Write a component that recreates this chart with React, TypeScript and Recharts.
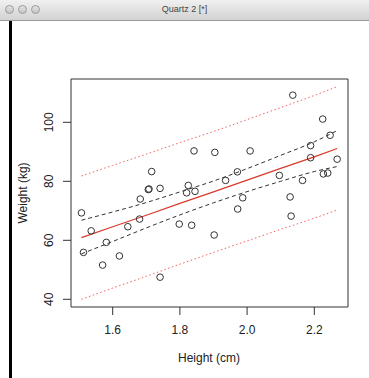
import React from 'react';
import {
  ComposedChart,
  Scatter,
  Line,
  XAxis,
  YAxis,
  ReferenceArea,
} from 'recharts';

const heights = [
  1.507, 1.513, 1.536, 1.570, 1.581, 1.620, 1.645, 1.680, 1.682, 1.706,
  1.708, 1.716, 1.741, 1.741, 1.798, 1.820, 1.825, 1.835, 1.842, 1.845,
  1.902, 1.904, 1.936, 1.971, 1.972, 1.987, 2.009, 2.096, 2.128, 2.131,
  2.136, 2.165, 2.189, 2.189, 2.225, 2.227, 2.240, 2.247, 2.268,
];
const weights = [
  69.3, 55.9, 63.2, 51.6, 59.3, 54.7, 64.6, 67.2, 74.0, 77.2,
  77.4, 83.3, 77.6, 47.5, 65.5, 76.1, 78.6, 65.1, 90.3, 76.6,
  61.8, 89.8, 80.3, 83.2, 70.6, 74.4, 90.3, 82.0, 74.7, 68.2,
  109.2, 80.3, 92.1, 88.0, 101.1, 82.5, 82.8, 95.6, 87.5,
];

// fitted line, confidence and prediction bands (read at these heights)
const bandX = [1.507, 1.6, 1.7, 1.8, 1.9, 2.0, 2.1, 2.2, 2.268];
const fitY = [60.9, 64.6, 68.5, 72.5, 76.4, 80.4, 84.4, 88.3, 91.1];
const confLow = [55.4, 59.6, 64.2, 68.6, 72.7, 76.5, 80.0, 83.3, 85.0];
const confHigh = [66.8, 69.6, 72.8, 76.4, 80.1, 84.3, 88.8, 93.4, 97.2];
const predLow = [40.0, 43.8, 47.8, 51.9, 55.9, 59.8, 63.7, 67.5, 70.3];
const predHigh = [81.8, 85.4, 89.2, 93.1, 96.9, 100.9, 105.0, 109.1, 112.1];

const xTicks = [1.6, 1.8, 2.0, 2.2];
const yTicks = [40, 60, 80, 100];

const X_DOMAIN: [number, number] = [1.4759, 2.3003];
const Y_DOMAIN: [number, number] = [37.39, 114.68];

const W = 369;
const H = 378;
const FONT = '"Liberation Sans", Arial, Helvetica, sans-serif';
const INK = '#333';

const points = heights.map((h, i) => ({ x: h, y: weights[i] }));
const bands = bandX.map((x, i) => ({
  x,
  fit: fitY[i],
  lo: confLow[i],
  hi: confHigh[i],
  plo: predLow[i],
  phi: predHigh[i],
}));

const OpenCircle = (props: any) => {
  const { cx, cy } = props;
  if (cx == null || cy == null) return null;
  return <circle cx={cx} cy={cy} r={3.3} fill="none" stroke={INK} strokeWidth={1} />;
};

const XTick = ({ x, y, payload }: any) => (
  <text x={x} y={y + 17} textAnchor="middle" fontSize={12} fontFamily={FONT} fill="#222">
    {payload.value.toFixed(1)}
  </text>
);

const YTick = ({ x, y, payload }: any) => (
  <text
    x={x - 7.5}
    y={y}
    textAnchor="middle"
    fontSize={12}
    fontFamily={FONT}
    fill="#222"
    transform={`rotate(-90, ${x - 7.5}, ${y})`}
  >
    {payload.value}
  </text>
);

const TitleBar = () => (
  <div
    style={{
      position: 'absolute',
      left: 0,
      top: 0,
      width: W,
      height: 20,
      background: 'linear-gradient(#f0f0f0, #d2d2d2)',
      borderBottom: '1px solid #9a9a9a',
      fontFamily: FONT,
    }}
  >
    {[5, 18, 31].map((l) => (
      <div
        key={l}
        style={{
          position: 'absolute',
          left: l,
          top: 5,
          width: 9,
          height: 9,
          borderRadius: '50%',
          background: 'linear-gradient(#e4e4e4, #c4c4c4)',
          border: '1px solid #9a9a9a',
          boxSizing: 'border-box',
        }}
      />
    ))}
    <div
      style={{
        position: 'absolute',
        left: 0,
        width: W,
        top: 4,
        textAlign: 'center',
        fontSize: 9,
        color: '#444',
      }}
    >
      Quartz 2 [*]
    </div>
  </div>
);

export default function App() {
  return (
    <div style={{ position: 'fixed', left: 0, top: 0, width: W, height: H, background: '#fff', overflow: 'hidden' }}>
      <TitleBar />
      <div style={{ position: 'absolute', left: 9, top: 21, width: 3, height: H - 21, background: '#000' }} />
      <div style={{ position: 'absolute', left: 0, top: 0 }}>
        <ComposedChart width={W} height={H} margin={{ top: 79, right: 21, bottom: 31, left: 31 }}>
          <XAxis
            type="number"
            dataKey="x"
            domain={X_DOMAIN}
            ticks={xTicks}
            allowDataOverflow
            height={40}
            tickSize={8}
            tickMargin={2}
            axisLine={false}
            tickLine={{ stroke: INK }}
            tick={<XTick />}
            label={{
              content: () => (
                <text x={209} y={362} textAnchor="middle" fontSize={12} fontFamily={FONT} fill="#222">
                  Height (cm)
                </text>
              ),
            }}
          />
          <YAxis
            type="number"
            dataKey="y"
            domain={Y_DOMAIN}
            ticks={yTicks}
            allowDataOverflow
            width={40}
            tickSize={8}
            tickMargin={2}
            axisLine={false}
            tickLine={{ stroke: INK }}
            tick={<YTick />}
            label={{
              content: () => (
                <text
                  x={27}
                  y={193}
                  textAnchor="middle"
                  fontSize={12}
                  fontFamily={FONT}
                  fill="#222"
                  transform="rotate(-90, 27, 193)"
                >
                  Weight (kg)
                </text>
              ),
            }}
          />
          <ReferenceArea
            x1={X_DOMAIN[0]}
            x2={X_DOMAIN[1]}
            y1={Y_DOMAIN[0]}
            y2={Y_DOMAIN[1]}
            fill="none"
            stroke={INK}
            strokeWidth={1}
          />
          <Line data={bands} dataKey="phi" stroke="#f06060" strokeWidth={1} strokeDasharray="1.5 2.5" dot={false} isAnimationActive={false} type="monotone" />
          <Line data={bands} dataKey="plo" stroke="#f06060" strokeWidth={1} strokeDasharray="1.5 2.5" dot={false} isAnimationActive={false} type="monotone" />
          <Line data={bands} dataKey="hi" stroke="#333" strokeWidth={1} strokeDasharray="4 3" dot={false} isAnimationActive={false} type="monotone" />
          <Line data={bands} dataKey="lo" stroke="#333" strokeWidth={1} strokeDasharray="4 3" dot={false} isAnimationActive={false} type="monotone" />
          <Line data={bands} dataKey="fit" stroke="#d8392b" strokeWidth={1.2} dot={false} isAnimationActive={false} type="linear" />
          <Scatter data={points} dataKey="y" shape={<OpenCircle />} isAnimationActive={false} />
        </ComposedChart>
      </div>
    </div>
  );
}
